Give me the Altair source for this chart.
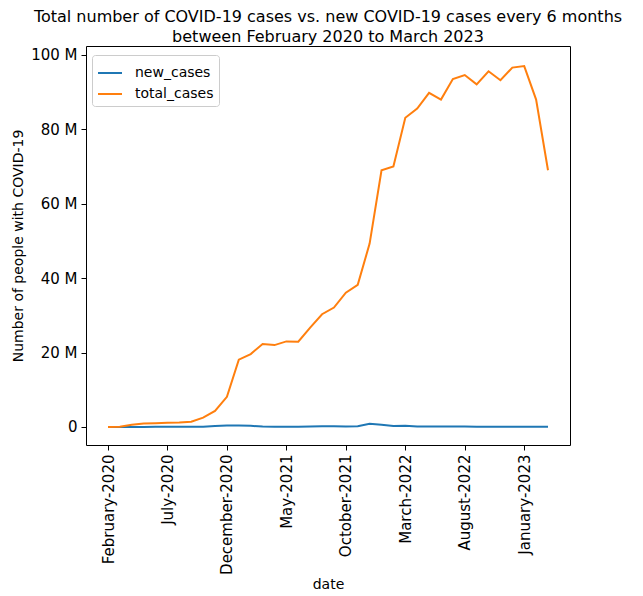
import altair as alt
import pandas as pd

months = [
    "February-2020", "March-2020", "April-2020", "May-2020", "June-2020", "July-2020",
    "August-2020", "September-2020", "October-2020", "November-2020", "December-2020",
    "January-2021", "February-2021", "March-2021", "April-2021", "May-2021", "June-2021",
    "July-2021", "August-2021", "September-2021", "October-2021", "November-2021",
    "December-2021", "January-2022", "February-2022", "March-2022", "April-2022",
    "May-2022", "June-2022", "July-2022", "August-2022", "September-2022",
    "October-2022", "November-2022", "December-2022", "January-2023", "February-2023",
    "March-2023",
]

# values in millions
total_cases = [
    0.0, 0.05, 0.6, 0.9, 1.0, 1.1, 1.2, 1.4, 2.5, 4.3, 8.1, 18.1, 19.6, 22.3, 22.0,
    23.0, 22.9, 26.7, 30.3, 32.1, 36.1, 38.2, 49.3, 69.0, 70.0, 83.1, 85.6, 89.8,
    88.0, 93.5, 94.6, 92.1, 95.6, 93.2, 96.6, 97.0, 88.0, 69.0,
]
new_cases = [
    0.0, 0.0, 0.01, 0.02, 0.03, 0.04, 0.05, 0.06, 0.08, 0.25, 0.4, 0.4, 0.3, 0.12,
    0.08, 0.06, 0.07, 0.12, 0.2, 0.18, 0.15, 0.2, 0.85, 0.6, 0.25, 0.35, 0.15, 0.1,
    0.15, 0.1, 0.1, 0.08, 0.08, 0.07, 0.06, 0.05, 0.04, 0.04,
]
series_names = ["new_cases", "total_cases"]
series_colors = ["#1f77b4", "#ff7f0e"]
tick_idx = [0, 5, 10, 15, 20, 25, 30, 35]

rows = []
for name, vals in zip(series_names, [new_cases, total_cases]):
    for i, v in enumerate(vals):
        rows.append({"idx": i, "month": months[i], "series": name, "value": v})
df = pd.DataFrame(rows)

label_array = "[" + ",".join("'" + m + "'" for m in months) + "]"

FONT = "DejaVu Sans"

chart = (
    alt.Chart(df)
    .mark_line(strokeWidth=2)
    .encode(
        x=alt.X(
            "idx:Q",
            title="date",
            scale=alt.Scale(domain=[-1.85, 38.85], nice=False, zero=False),
            axis=alt.Axis(
                values=tick_idx,
                labelExpr=label_array + "[datum.value]",
                labelAngle=270,
                labelAlign="right",
                labelBaseline="middle",
                labelFontSize=15,
                labelPadding=4,
                titleFontSize=14,
                titleFontWeight="normal",
                titlePadding=3,
                grid=False,
                tickSize=5,
                tickColor="black",
                domain=False,
                labelColor="black",
                titleColor="black",
            ),
        ),
        y=alt.Y(
            "value:Q",
            title="Number of people with COVID-19",
            scale=alt.Scale(domain=[-4.85, 102.4], nice=False, zero=False),
            axis=alt.Axis(
                values=[0, 20, 40, 60, 80, 100],
                labelExpr="datum.value == 0 ? '0' : datum.value + ' M'",
                labelFontSize=15,
                labelPadding=4,
                titleFontSize=14,
                titleFontWeight="normal",
                titlePadding=5,
                grid=False,
                tickSize=5,
                tickColor="black",
                domain=False,
                labelColor="black",
                titleColor="black",
            ),
        ),
        color=alt.Color(
            "series:N",
            scale=alt.Scale(domain=series_names, range=series_colors),
            legend=alt.Legend(
                title=None,
                orient="none",
                legendX=6,
                legendY=9,
                symbolType="stroke",
                symbolSize=576,
                symbolStrokeWidth=2,
                labelFontSize=14,
                labelColor="black",
                rowPadding=1,
                padding=5,
                strokeColor="#cccccc",
                fillColor="white",
                cornerRadius=3,
                labelOffset=12,
            ),
        ),
        order="idx:Q",
    )
    .properties(
        width=484,
        height=399,
        autosize=alt.AutoSizeParams(type="none"),
        padding={"left": 78, "top": 38, "right": 65, "bottom": 147},
        title=alt.Title(
            ["Total number of COVID-19 cases vs. new COVID-19 cases every 6 months",
             "between February 2020 to March 2023"],
            fontSize=16,
            fontWeight="normal",
            color="black",
            anchor="middle",
            offset=1,
            lineHeight=20,
        ),
    )
    .configure(font=FONT)
    .configure_view(stroke="black", strokeWidth=1)
)

chart.save("out.html", embed_options={"renderer": "svg", "actions": False})
